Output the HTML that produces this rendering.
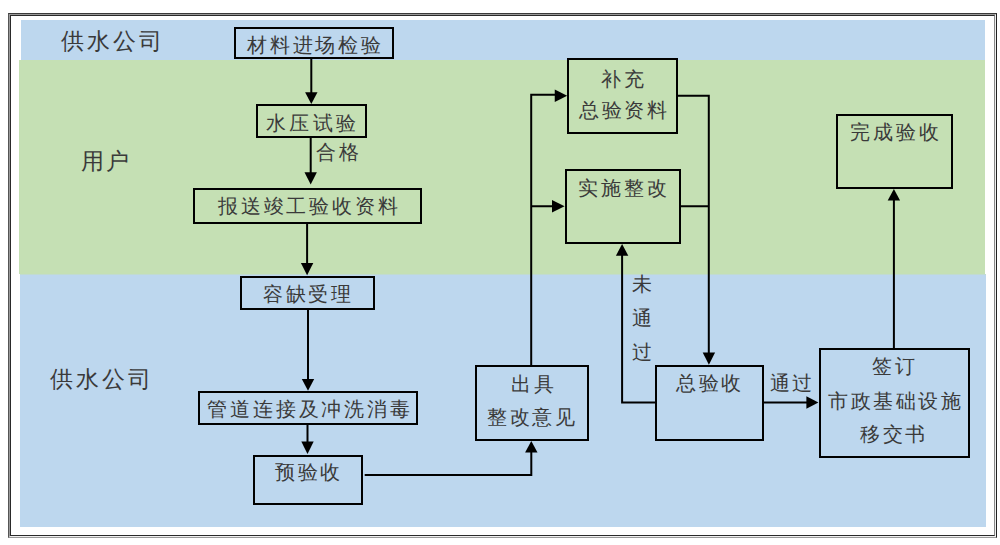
<!DOCTYPE html>
<html><head><meta charset="utf-8">
<style>
html,body{margin:0;padding:0;background:#fff;width:1000px;height:545px;overflow:hidden;position:relative}
body{font-family:"Liberation Serif",serif;color:#3a3a3a}
.a{position:absolute;box-sizing:border-box}
.bb{background:#bdd7ee}
.bg{background:#c5e0b4}
.box{position:absolute;box-sizing:border-box;border:2px solid #000}
.t{position:absolute;white-space:nowrap;font-size:20px;line-height:20px}
svg{position:absolute;left:0;top:0}
</style></head><body>
<!-- frame -->
<div class="a" style="left:8px;top:13px;width:989px;height:525px;border:1px solid #3a3a3a;border-left-color:#555;border-bottom-color:#9a9a9a;border-right-color:#222"></div>
<div class="a" style="left:9px;top:14px;width:987px;height:523px;border:1px solid #9a9a9a;border-right-color:#f0f0f0;border-bottom-color:#f0f0f0"></div>
<div class="a" style="left:10px;top:15px;width:985px;height:521px;border:1px solid #2a2a2a;border-right-color:#8a8a8a;background:#fff"></div>
<!-- bands -->
<div class="a bb" style="left:21px;top:20px;width:964px;height:40px"></div>
<div class="a bg" style="left:19px;top:60px;width:966px;height:214px"></div>
<div class="a bb" style="left:20px;top:275px;width:966px;height:252px"></div>
<div class="a" style="left:19.5px;top:274px;width:966px;height:1px;background:#c1dbd1"></div>
<!-- boxes -->
<div class="box" style="left:234px;top:27px;width:160px;height:32px"></div>
<div class="box" style="left:256px;top:104px;width:111px;height:34px"></div>
<div class="box" style="left:193px;top:187.5px;width:229px;height:36.5px"></div>
<div class="box" style="left:240px;top:276px;width:134.5px;height:33.5px"></div>
<div class="box" style="left:198px;top:391px;width:220px;height:33.5px"></div>
<div class="box" style="left:252.5px;top:454.5px;width:110px;height:50.5px"></div>
<div class="box" style="left:474.5px;top:365px;width:114.5px;height:76px"></div>
<div class="box" style="left:567px;top:58px;width:111px;height:76px"></div>
<div class="box" style="left:564.5px;top:168.5px;width:116.5px;height:75.5px"></div>
<div class="box" style="left:655px;top:365px;width:109px;height:76px"></div>
<div class="box" style="left:818.5px;top:348px;width:151.5px;height:110px"></div>
<div class="box" style="left:836px;top:114px;width:117px;height:75px"></div>
<!-- arrows -->
<svg width="1000" height="545" viewBox="0 0 1000 545">
<g stroke="#000" stroke-width="2" fill="none">
<path d="M311.3 59V93"/>
<path d="M310.7 138V173"/>
<path d="M307.1 224V264"/>
<path d="M308 309.5V380"/>
<path d="M307.5 424.5V442.5"/>
<path d="M364.7 475H531.3V451.5"/>
<path d="M531.2 365V94.75H555.5"/>
<path d="M531.2 206.25H553"/>
<path d="M678 95.75H708.8V353.5"/>
<path d="M680.75 206.25H708.8"/>
<path d="M655 402.4H622.1V255"/>
<path d="M764 402.4H807.5"/>
<path d="M893.9 348V199.5"/>
</g>
<g fill="#000">
<path d="M305.1 92.2H317.5L311.3 104Z"/>
<path d="M304.5 172.2H316.9L310.7 184.6Z"/>
<path d="M300.9 262.9H313.3L307.1 275.2Z"/>
<path d="M301.8 378.9H314.2L308 390.8Z"/>
<path d="M301.3 441.5H313.7L307.5 454Z"/>
<path d="M525.1 452.4H537.5L531.3 441Z"/>
<path d="M554.75 89.5V101.9L567.2 95.7Z"/>
<path d="M552 200V212.4L564.6 206.2Z"/>
<path d="M702.7 352.5H715.1L708.9 364.8Z"/>
<path d="M615.9 255.8H628.3L622.1 244Z"/>
<path d="M806.4 396.3V408.7L818.4 402.5Z"/>
<path d="M887.7 200.5H900.1L893.9 189Z"/>
</g>
</svg>
<!-- labels -->
<div class="t" style="left:61px;top:31.5px;font-size:23px;letter-spacing:3px">供水公司</div>
<div class="t" style="left:81px;top:151.5px;font-size:23px;letter-spacing:2px">用户</div>
<div class="t" style="left:50px;top:369.5px;font-size:23px;letter-spacing:3px">供水公司</div>
<div class="t" style="left:316px;top:142px;letter-spacing:3px">合格</div>
<div class="t" style="left:632px;top:267px;line-height:34px;width:20px;white-space:normal">未<br>通<br>过</div>
<div class="t" style="left:770px;top:373px;letter-spacing:2px">通过</div>
<div class="t" style="left:247px;top:35px;letter-spacing:2.8px">材料进场检验</div>
<div class="t" style="left:266px;top:113px;letter-spacing:3.3px">水压试验</div>
<div class="t" style="left:218px;top:196px;letter-spacing:2.8px">报送竣工验收资料</div>
<div class="t" style="left:263px;top:284px;letter-spacing:2.5px">容缺受理</div>
<div class="t" style="left:207px;top:399px;letter-spacing:2.9px">管道连接及冲洗消毒</div>
<div class="t" style="left:275px;top:462px;letter-spacing:2.5px">预验收</div>
<div class="t" style="left:511px;top:374px;letter-spacing:3px">出具</div>
<div class="t" style="left:487px;top:407px;letter-spacing:2.5px">整改意见</div>
<div class="t" style="left:601px;top:69px;letter-spacing:3px">补充</div>
<div class="t" style="left:579px;top:100px;letter-spacing:2.5px">总验资料</div>
<div class="t" style="left:578px;top:178px;letter-spacing:3px">实施整改</div>
<div class="t" style="left:676px;top:373px;letter-spacing:2.5px">总验收</div>
<div class="t" style="left:872px;top:356px;letter-spacing:3px">签订</div>
<div class="t" style="left:828px;top:391px;letter-spacing:2.5px">市政基础设施</div>
<div class="t" style="left:860px;top:424px;letter-spacing:2.5px">移交书</div>
<div class="t" style="left:850px;top:122px;letter-spacing:3px">完成验收</div>
</body></html>
